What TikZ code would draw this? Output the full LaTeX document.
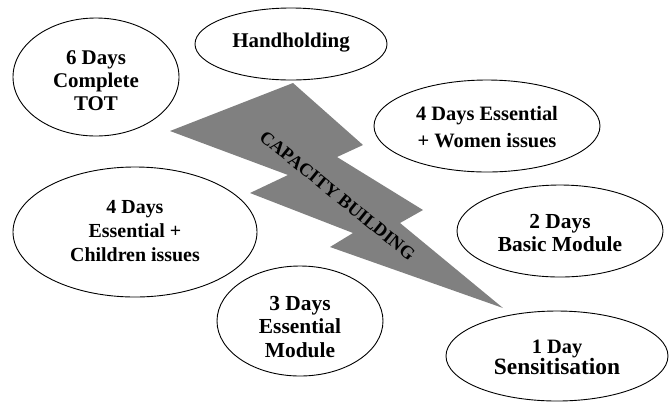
\documentclass[tikz,border=0pt]{standalone}
\usepackage{fontspec}
\setmainfont{Liberation Serif}
\usetikzlibrary{shapes.geometric}
\tikzset{
  oval/.style={ellipse, draw=black, line width=0.9bp, fill=white, inner sep=0pt},
  lbl/.style={align=center, inner sep=0pt, font=\bfseries},
  bolt/.style={fill=black!50, draw=none}
}
\newcommand{\fs}[2]{\fontsize{#1}{#2}\selectfont}
\begin{document}
\begin{tikzpicture}[x=1bp,y=-1bp]
\useasboundingbox (0,0) rectangle (670,401);
% lightning bolt
\coordinate (b1) at (293,83);
\coordinate (b2) at (363,145);
\coordinate (b3) at (337,157);
\coordinate (b4) at (423,210);
\coordinate (b5) at (400,223);
\coordinate (b6) at (503,308);
\coordinate (b7) at (330,247);
\coordinate (b8) at (353,233);
\coordinate (b9) at (250,193);
\coordinate (b10) at (288,175);
\coordinate (b11) at (170,131);
\fill[bolt] (b1) -- (b2) -- (b3) -- (b4) -- (b5) -- (b6) -- (b7) -- (b8) -- (b9) -- (b10) -- (b11) -- cycle;
\node[lbl, rotate=-39, font=\bfseries\fs{18.5}{20}] (cb) at (337.5,195.5) {CAPACITY BUILDING};
% ellipses
\node[oval, minimum width=166bp, minimum height=118bp] (e6) at (96,77) {};
\node[lbl, font=\bfseries\fs{21}{23}] (t6) at (96,81) {6 Days\\Complete\\TOT};
\node[oval, minimum width=192bp, minimum height=72bp] (eh) at (291,44) {};
\node[lbl, font=\bfseries\fs{21}{23}] (th) at (291,43) {Handholding};
\node[oval, minimum width=226bp, minimum height=92bp] (ew) at (487,126) {};
\node[lbl, font=\bfseries\fs{20.5}{27}] (tw) at (487,127) {4 Days Essential\\+ Women issues};
\node[oval, minimum width=206bp, minimum height=92bp] (e2) at (560,231) {};
\node[lbl, font=\bfseries\fs{21.5}{23}] (t2) at (560,233) {2 Days\\Basic Module};
\node[oval, minimum width=244bp, minimum height=130bp] (ec) at (135,232) {};
\node[lbl, font=\bfseries\fs{20}{24.5}] (tc) at (135,231) {4 Days\\Essential +\\Children issues};
\node[oval, minimum width=166bp, minimum height=110bp] (e3) at (300,321) {};
\node[lbl, font=\bfseries\fs{21.5}{23.5}] (t3) at (300,327) {3 Days\\Essential\\Module};
\node[oval, minimum width=222bp, minimum height=90bp] (e1) at (557,356) {};
\node[lbl, font=\bfseries\fs{23.5}{21}] (t1) at (557,357) {{\fs{20.5}{21}1 Day}\\Sensitisation};
\end{tikzpicture}
\end{document}
